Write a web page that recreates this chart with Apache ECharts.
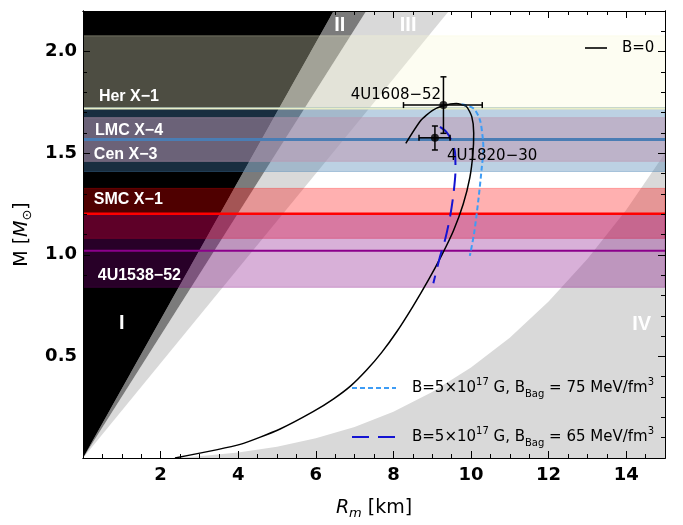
<!DOCTYPE html>
<html><head><meta charset="utf-8">
<script src="https://cdn.jsdelivr.net/npm/echarts@6/dist/echarts.min.js"></script>
<style>html,body{margin:0;padding:0;background:#fff}#c{width:683px;height:525px}</style>
</head><body><div id="c"></div>
<script>
// ---------- axes ----------
const X_MIN = 0, X_MAX = 15, Y_MIN = 0, Y_MAX = 2.2;
const xTickLabels = [2, 4, 6, 8, 10, 12, 14];
const yTickLabels = [0.5, 1.0, 1.5, 2.0];

// ---------- excluded regions (R [km], M [Msun]) ----------
const regionI   = [[0, 0], [6.46, 2.2], [0, 2.2]];
const regionII  = [[0, 0], [7.30, 2.2], [6.46, 2.2]];
const regionIII = [[0, 0], [9.43, 2.2], [7.30, 2.2]];
const regionIV  = [[2.4, 0], [3, 0.008], [4, 0.027], [5, 0.055], [6, 0.097], [7, 0.153], [8, 0.228],
                   [9, 0.325], [10, 0.445], [11, 0.592], [12, 0.77], [13, 0.98], [14, 1.22], [15, 1.5], [15, 0]];
const regionNames  = ['I', 'II', 'III', 'IV'];
const regionLabelR = [1.0, 6.62, 8.38, 14.4];
const regionLabelM = [0.66, 2.13, 2.13, 0.655];

// ---------- observed mass bands ----------
const bandNames  = ['Her X\u22121', 'Cen X\u22123', 'LMC X\u22124', 'SMC X\u22121', '4U1538\u221252'];
const bandLow    = [1.72, 1.41, 1.46, 1.081, 0.84];
const bandHigh   = [2.078, 1.725, 1.675, 1.327, 1.20];
const bandLine   = [1.72, 1.567, null, 1.202, 1.02];
const bandLabelR = [0.41, 0.28, 0.31, 0.28, 0.38];
const bandLabelM = [1.777, 1.491, 1.611, 1.27, 0.90];

// ---------- M-R curves ----------
const curveB0 = [[2.37, 0], [4.05, 0.067], [5.08, 0.143], [5.93, 0.228], [6.45, 0.29], [6.9, 0.355],
  [7.31, 0.433], [7.7, 0.52], [8.1, 0.625], [8.5, 0.745], [8.9, 0.875], [9.25, 1.0], [9.55, 1.12],
  [9.8, 1.25], [9.97, 1.38], [10.05, 1.5], [10.07, 1.6], [10.02, 1.68], [9.88, 1.73], [9.62, 1.745],
  [9.3, 1.735], [9.0, 1.71], [8.7, 1.66], [8.32, 1.549]];
const curveB75 = [[9.76, 1.741], [10.06, 1.721], [10.23, 1.663], [10.3, 1.58], [10.32, 1.52],
  [10.28, 1.434], [10.19, 1.27], [10.08, 1.106], [9.97, 0.995]];
const curveB65 = [[9.2, 1.63], [9.36, 1.606], [9.5, 1.56], [9.59, 1.5], [9.6, 1.42], [9.55, 1.303],
  [9.46, 1.187], [9.33, 1.073], [9.2, 0.99], [9.03, 0.86]];

// ---------- sources with error bars ----------
const srcNames = ['4U1608\u221252', '4U1820\u221230'];
const srcR   = [9.29, 9.07];
const srcRlo = [8.26, 8.66];
const srcRhi = [10.29, 9.46];
const srcM   = [1.737, 1.576];
const srcMlo = [1.598, 1.516];
const srcMhi = [1.876, 1.634];
const srcLabelR = [9.23, 9.38];
const srcLabelM = [1.786, 1.488];

// ---------- styles ----------
const regions = [regionI, regionII, regionIII, regionIV];
const regionColors = ['#000000', '#7b7b7b', '#d9d9d9', '#d9d9d9'];
const regionDraw = [2, 1, 0, 3];
const bandFill = ['rgba(250,250,212,0.31)', 'rgba(70,128,178,0.36)', 'rgba(190,150,175,0.5)',
                  'rgba(255,0,0,0.31)', 'rgba(128,0,128,0.31)'];
const bandLineColor = ['#e9eec6', '#4a7db4', null, '#ff0000', '#8b008b'];
const bandLineWidth = [2, 3, 0, 2.5, 2];
const bandLabelAlign = ['left', 'left', 'left', 'left', 'left'];
const srcLabelAlign = ['right', 'left'];

const chart = echarts.init(document.getElementById('c'), null, {renderer: 'canvas', width: 683, height: 525});

const tickFont = {color: '#000', fontSize: 18, fontWeight: 'bold', fontFamily: 'DejaVu Sans'};
function baseAxis(extra) {
  return Object.assign({
    type: 'value', splitLine: {show: false}, z: 10,
    axisLine: {show: true, onZero: false, lineStyle: {color: '#000', width: 1}}
  }, extra);
}
const xMain = {min: X_MIN, max: X_MAX, interval: 2};
const xMinor = {min: X_MIN, max: X_MAX, interval: 0.5};
const yMain = {min: Y_MIN, max: Y_MAX, interval: 0.5};
const yMinor = {min: Y_MIN, max: Y_MAX, interval: 0.1};
const noLabel = {show: false};
const tickMain = {inside: true, length: 7, lineStyle: {color: '#000', width: 1}};
const tickMinor = {inside: true, length: 4, lineStyle: {color: '#000', width: 1}};

const option = {
  animation: false,
  backgroundColor: '#fff',
  grid: {left: 83, top: 11, right: 18, bottom: 67, containLabel: false},
  xAxis: [
    baseAxis(Object.assign({}, xMain, {
      position: 'bottom', axisTick: tickMain,
      axisLabel: Object.assign({margin: 8, formatter: v => xTickLabels.some(t => Math.abs(t - v) < 1e-6) ? String(v) : ''}, tickFont),
      name: '{i|R}{s|m} [km]', nameLocation: 'middle', nameGap: 38,
      nameTextStyle: {color: '#000', fontSize: 19, fontFamily: 'DejaVu Sans', lineHeight: 24,
        rich: {i: {fontStyle: 'italic', fontSize: 19, fontFamily: 'DejaVu Sans', color: '#000', lineHeight: 24},
               s: {fontStyle: 'italic', fontSize: 13, fontFamily: 'DejaVu Sans', color: '#000', verticalAlign: 'bottom', lineHeight: 14}}}
    })),
    baseAxis(Object.assign({}, xMinor, {position: 'bottom', axisTick: tickMinor, axisLabel: noLabel})),
    baseAxis(Object.assign({}, xMain, {position: 'top', axisTick: tickMain, axisLabel: noLabel})),
    baseAxis(Object.assign({}, xMinor, {position: 'top', axisTick: tickMinor, axisLabel: noLabel}))
  ],
  yAxis: [
    baseAxis(Object.assign({}, yMain, {
      position: 'left', axisTick: tickMain,
      axisLabel: Object.assign({margin: 6, formatter: v => yTickLabels.some(t => Math.abs(t - v) < 1e-6) ? v.toFixed(1) : ''}, tickFont),
      name: 'M [{i|M}{s|\u2299}]', nameLocation: 'middle', nameGap: 43, nameRotate: 90,
      nameTextStyle: {color: '#000', fontSize: 19, fontFamily: 'DejaVu Sans', lineHeight: 24,
        rich: {i: {fontStyle: 'italic', fontSize: 19, fontFamily: 'DejaVu Sans', color: '#000', lineHeight: 24},
               s: {fontSize: 13, fontFamily: 'DejaVu Sans', color: '#000', verticalAlign: 'bottom', lineHeight: 14}}}
    })),
    baseAxis(Object.assign({}, yMinor, {position: 'left', axisTick: tickMinor, axisLabel: noLabel})),
    baseAxis(Object.assign({}, yMain, {position: 'right', axisTick: tickMain, axisLabel: noLabel})),
    baseAxis(Object.assign({}, yMinor, {position: 'right', axisTick: tickMinor, axisLabel: noLabel}))
  ],
  series: [
    {
      type: 'custom', z: 1, clip: true, silent: true,
      data: regionDraw.map(() => [X_MIN, Y_MIN]),
      renderItem: (params, api) => {
        const k = regionDraw[params.dataIndex];
        return {type: 'polygon', shape: {points: regions[k].map(p => api.coord(p))},
                style: {fill: regionColors[k]}};
      }
    },
    {
      type: 'custom', z: 2, clip: true, silent: true,
      data: bandNames.map((n, i) => [X_MIN, bandLow[i]]),
      renderItem: (params, api) => {
        const i = params.dataIndex;
        const a = api.coord([X_MIN, bandHigh[i]]), b = api.coord([X_MAX, bandLow[i]]);
        return {type: 'rect', shape: {x: a[0], y: a[1], width: b[0] - a[0], height: b[1] - a[1]},
                style: {fill: bandFill[i], stroke: bandFill[i], lineWidth: 1}};
      }
    },
    {
      type: 'custom', z: 3, clip: true, silent: true,
      data: bandNames.map((n, i) => [X_MIN, bandLine[i] === null ? 0 : bandLine[i]]),
      renderItem: (params, api) => {
        const i = params.dataIndex;
        if (bandLine[i] === null) return null;
        const a = api.coord([X_MIN, bandLine[i]]), b = api.coord([X_MAX, bandLine[i]]);
        return {type: 'line', shape: {x1: a[0], y1: a[1], x2: b[0], y2: b[1]},
                style: {stroke: bandLineColor[i], lineWidth: bandLineWidth[i]}};
      }
    },
    {name: 'B=0', type: 'line', z: 4, data: curveB0, showSymbol: false, symbol: 'none', smooth: 0.2,
     lineStyle: {color: '#000', width: 1.5}},
    {name: '75', type: 'line', z: 4, data: curveB75, showSymbol: false, symbol: 'none', smooth: 0.3,
     lineStyle: {color: '#3d9cf5', width: 2, type: [5, 3]}},
    {name: '65', type: 'line', z: 4, data: curveB65, showSymbol: false, symbol: 'none', smooth: 0.3,
     lineStyle: {color: '#1414d2', width: 2, type: [17, 9]}},
    {
      type: 'custom', z: 5, silent: true,
      data: srcNames.map((n, i) => [srcR[i], srcM[i]]),
      renderItem: (params, api) => {
        const i = params.dataIndex;
        const l = api.coord([srcRlo[i], srcM[i]]), r = api.coord([srcRhi[i], srcM[i]]);
        const t = api.coord([srcR[i], srcMhi[i]]), bt = api.coord([srcR[i], srcMlo[i]]);
        const st = {stroke: '#000', lineWidth: 1.5};
        const c = 3;
        return {type: 'group', children: [
          {type: 'line', shape: {x1: l[0], y1: l[1], x2: r[0], y2: r[1]}, style: st},
          {type: 'line', shape: {x1: t[0], y1: t[1], x2: bt[0], y2: bt[1]}, style: st},
          {type: 'line', shape: {x1: l[0], y1: l[1] - c, x2: l[0], y2: l[1] + c}, style: st},
          {type: 'line', shape: {x1: r[0], y1: r[1] - c, x2: r[0], y2: r[1] + c}, style: st},
          {type: 'line', shape: {x1: t[0] - c, y1: t[1], x2: t[0] + c, y2: t[1]}, style: st},
          {type: 'line', shape: {x1: bt[0] - c, y1: bt[1], x2: bt[0] + c, y2: bt[1]}, style: st}
        ]};
      }
    },
    {type: 'scatter', z: 6, symbol: 'circle', symbolSize: 8, silent: true,
     data: srcNames.map((n, i) => [srcR[i], srcM[i]]), itemStyle: {color: '#000'}},
    {
      type: 'custom', z: 7, silent: true,
      data: [].concat(
        regionNames.map((n, i) => [regionLabelR[i], regionLabelM[i]]),
        bandNames.map((n, i) => [bandLabelR[i], bandLabelM[i]]),
        srcNames.map((n, i) => [srcLabelR[i], srcLabelM[i]])),
      renderItem: (params, api) => {
        const k = params.dataIndex;
        const nR = regionNames.length, nB = bandNames.length;
        let text, R, M, align, font, fill;
        if (k < nR) {
          text = regionNames[k]; R = regionLabelR[k]; M = regionLabelM[k]; align = 'center';
          font = 'bold 20px "Liberation Sans"'; fill = '#fff';
        } else if (k < nR + nB) {
          const j = k - nR;
          text = bandNames[j]; R = bandLabelR[j]; M = bandLabelM[j]; align = bandLabelAlign[j];
          font = 'bold 16px "Liberation Sans"'; fill = '#fff';
        } else {
          const j = k - nR - nB;
          text = srcNames[j]; R = srcLabelR[j]; M = srcLabelM[j]; align = srcLabelAlign[j];
          font = '15px "DejaVu Sans"'; fill = '#000';
        }
        const p = api.coord([R, M]);
        return {type: 'text', x: p[0], y: p[1],
                style: {text: text, font: font, fill: fill, align: align, verticalAlign: 'middle'}};
      }
    }
  ],
  graphic: [
    {type: 'line', z: 100, shape: {x1: 585, y1: 48, x2: 607, y2: 48}, style: {stroke: '#000', lineWidth: 1.6}},
    {type: 'text', z: 100, x: 622, y: 48, style: {text: 'B=0', font: '15px "DejaVu Sans"', fill: '#000', verticalAlign: 'middle'}},
    {type: 'line', z: 100, shape: {x1: 352, y1: 388, x2: 396, y2: 388}, style: {stroke: '#3d9cf5', lineWidth: 2, lineDash: [5, 3]}},
    {type: 'text', z: 100, x: 412, y: 388, style: {
      text: 'B=5\u00d710{sup|17} G, B{sub|Bag} = 75 MeV/fm{sup|3}', fontSize: 15, fontFamily: 'DejaVu Sans', fill: '#000',
      lineHeight: 22, verticalAlign: 'middle',
      rich: {sup: {fontSize: 10, fontFamily: 'DejaVu Sans', fill: '#000', verticalAlign: 'top', lineHeight: 12},
             sub: {fontSize: 10, fontFamily: 'DejaVu Sans', fill: '#000', verticalAlign: 'bottom', lineHeight: 12}}}},
    {type: 'line', z: 100, shape: {x1: 352, y1: 437, x2: 398, y2: 437}, style: {stroke: '#1414d2', lineWidth: 2, lineDash: [17, 9]}},
    {type: 'text', z: 100, x: 412, y: 437, style: {
      text: 'B=5\u00d710{sup|17} G, B{sub|Bag} = 65 MeV/fm{sup|3}', fontSize: 15, fontFamily: 'DejaVu Sans', fill: '#000',
      lineHeight: 22, verticalAlign: 'middle',
      rich: {sup: {fontSize: 10, fontFamily: 'DejaVu Sans', fill: '#000', verticalAlign: 'top', lineHeight: 12},
             sub: {fontSize: 10, fontFamily: 'DejaVu Sans', fill: '#000', verticalAlign: 'bottom', lineHeight: 12}}}}
  ]
};
chart.setOption(option);
</script>
</body></html>
